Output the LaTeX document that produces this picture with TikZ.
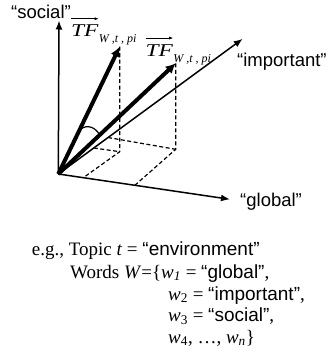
\documentclass[tikz,border=0pt]{standalone}
\usepackage{fontspec}
\setmainfont{Liberation Serif}
\newfontfamily\arialfont{Liberation Sans}
\usetikzlibrary{arrows.meta}

\newcommand{\wi}[1]{\textit{w}\textsubscript{#1}}

\tikzset{
    axis/.style={line width=1.5pt, -{Latex[length=9pt,width=7pt]}},
    vec/.style={line width=4pt, -{Latex[length=10pt,width=10pt]}},
    proj/.style={line width=1.2pt, dash pattern=on 4pt off 2.5pt},
    word/.style={font=\arialfont\fontsize{18.5}{22}\selectfont, inner sep=0pt, anchor=base west},
    line/.style={font=\fontsize{19}{22}\selectfont, inner sep=0pt, anchor=base west},
    tfname/.style={font=\fontsize{18}{18}\selectfont\itshape, inner sep=0pt, anchor=base west},
    tfsub/.style={font=\fontsize{12}{12}\selectfont\itshape, inner sep=0pt, anchor=base west},
    overarrow/.style={line width=0.7pt, -{Latex[length=4pt,width=3pt]}},
}

\begin{document}
\begin{tikzpicture}[x=1pt, y=-1pt]
    \useasboundingbox (0,0) rectangle (331,351);

    % Punti
    \coordinate (O) at (58.3,174);
    \coordinate (social) at (59,20.5);
    \coordinate (global) at (230,199.3);
    \coordinate (important) at (242.7,38.8);
    \coordinate (v1) at (119.7,46.7);
    \coordinate (v2) at (175.7,63.3);
    \coordinate (foot1) at (119.7,151.7);
    \coordinate (foot2) at (175.7,149.3);
    \coordinate (g1) at (83.3,177.7);
    \coordinate (g2) at (135,185.2);
    \coordinate (i1) at (108,137.5);
    \coordinate (i2) at (93.8,148);

    % Assi
    \draw[axis] (O) -- (social);
    \draw[axis] (O) -- (global);
    \draw[axis] (O) -- (important);

    % Proiezioni
    \draw[proj] (v1) -- (foot1) -- (g1);
    \draw[proj] (i2) -- (foot1);
    \draw[proj] (v2) -- (foot2) -- (g2);
    \draw[proj] (i1) -- (foot2);

    % Vettori
    \draw[vec] (O) -- (v1);
    \draw[vec] (O) -- (v2);

    % Angolo
    \draw[line width=1.2pt] (78.8,131.7) .. controls (83,124.5) and (94,124.5) .. (99.7,135);

    % Etichette assi
    \node[word, anchor=base] (lsocial) at (41,18.5) {“social”};
    \node[word] (limportant) at (237,66) {“important”};
    \node[word] (lglobal) at (240,206.5) {“global”};

    % Etichette vettori
    \node[tfname] (tf1) at (71,36.7) {\scalebox{1.3}[1]{TF}};
    \node[tfsub] (tf1sub) at ([yshift=-6pt]tf1.base east) {W ,t , pi};
    \draw[overarrow] ([yshift=6pt]tf1.north west) -- ([yshift=6pt]tf1.north east);

    \node[tfname] (tf2) at (145.5,56) {\scalebox{1.3}[1]{TF}};
    \node[tfsub] (tf2sub) at ([yshift=-6pt]tf2.base east) {W ,t , pi};
    \draw[overarrow] ([yshift=6pt]tf2.north west) -- ([yshift=6pt]tf2.north east);

    % Esempio
    \node[line] (ex1) at (31.7,255) {e.g., Topic \textit{t} = {\arialfont “environment”}};
    \node[line] (ex2) at (70,278) {Words \textit{W}=\{\wi{\textit{1}} = {\arialfont “global”},};
    \node[line] (ex3) at (168,300) {\wi{2} = {\arialfont “important”},};
    \node[line] (ex4) at (168,321.5) {\wi{3} = {\arialfont “social”},};
    \node[line] (ex5) at (168,343) {\wi{4}, \ldots, \wi{\textit{n}}\}};

\end{tikzpicture}
\end{document}
